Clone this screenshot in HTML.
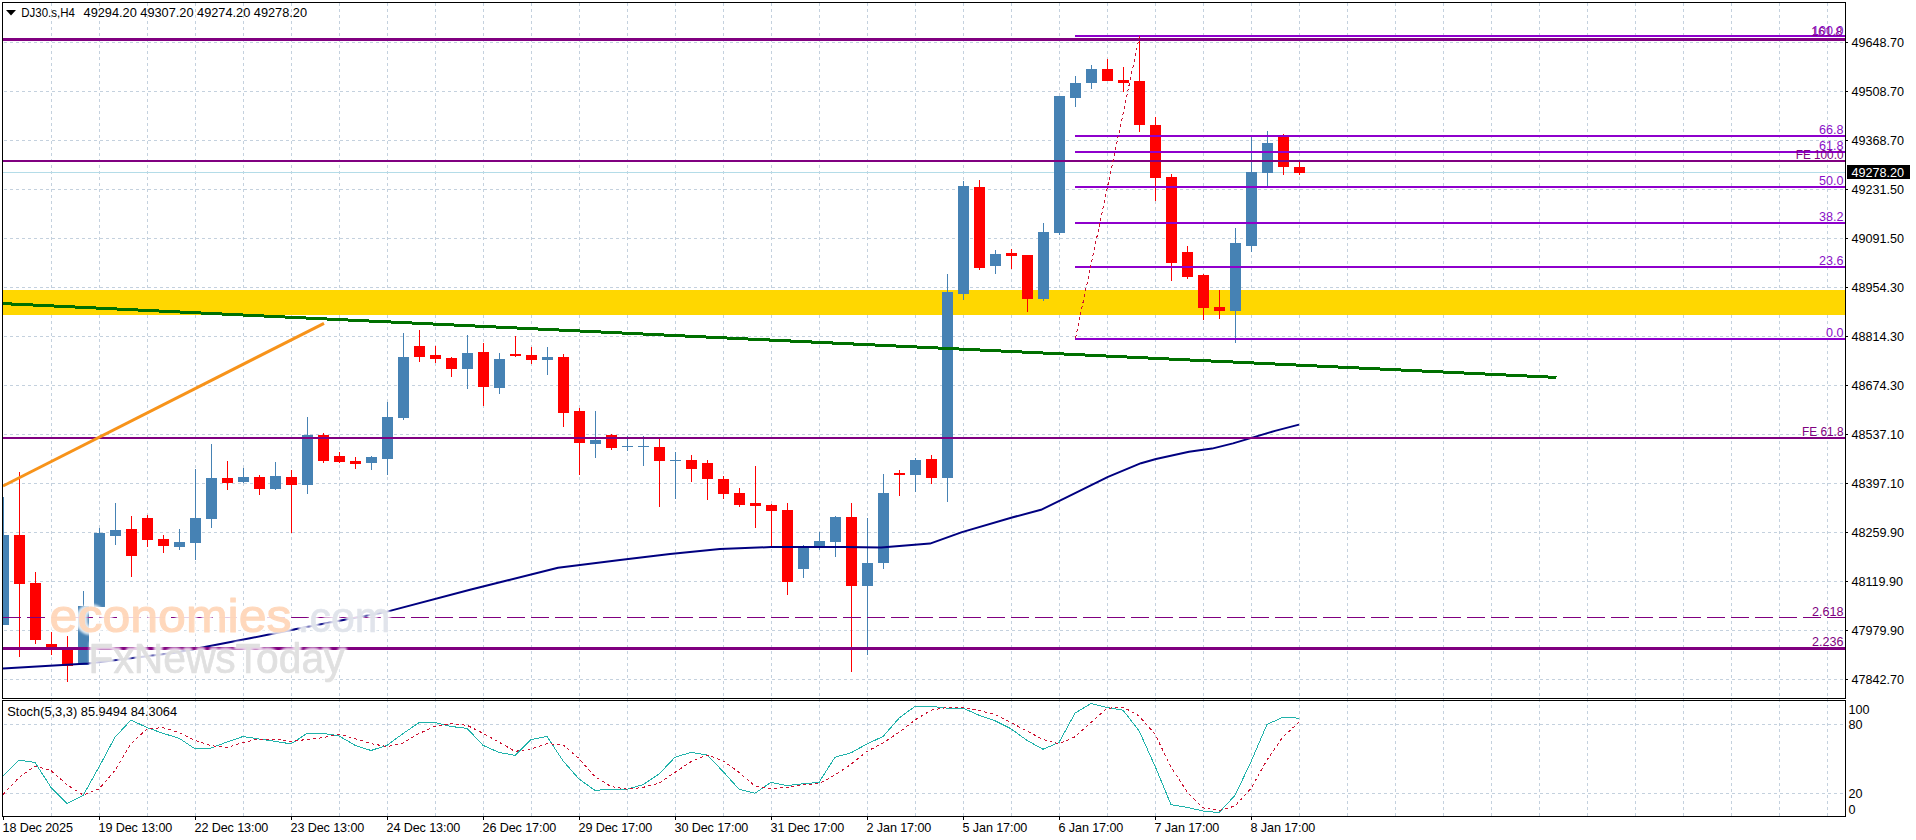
<!DOCTYPE html><html><head><meta charset="utf-8"><title>DJ30.s,H4</title>
<style>html,body{margin:0;padding:0;background:#fff;}body{width:1916px;height:840px;overflow:hidden;position:relative;font-family:"Liberation Sans",sans-serif;}svg{position:absolute;left:0;top:0;display:block;}text{font-family:"Liberation Sans",sans-serif;}
.ax{font-size:12.6px;fill:#000;}.fl{font-size:12.6px;text-anchor:end;}.dt{font-size:12.6px;fill:#000;letter-spacing:-0.1px;}
.wm{position:absolute;white-space:nowrap;line-height:1;}
</style></head><body>
<svg width="1916" height="840" viewBox="0 0 1916 840">
<rect x="0" y="0" width="1916" height="840" fill="#fff"/>
<g shape-rendering="crispEdges" stroke="#c4d1de" stroke-width="1" stroke-dasharray="3 3" fill="none">
<path d="M51.5 3V698" stroke-dashoffset="0"/>
<path d="M51.5 699V816" stroke-dashoffset="0"/>
<path d="M99.5 3V698" stroke-dashoffset="0"/>
<path d="M99.5 699V816" stroke-dashoffset="0"/>
<path d="M147.5 3V698" stroke-dashoffset="0"/>
<path d="M147.5 699V816" stroke-dashoffset="0"/>
<path d="M195.5 3V698" stroke-dashoffset="0"/>
<path d="M195.5 699V816" stroke-dashoffset="0"/>
<path d="M243.5 3V698" stroke-dashoffset="0"/>
<path d="M243.5 699V816" stroke-dashoffset="0"/>
<path d="M291.5 3V698" stroke-dashoffset="0"/>
<path d="M291.5 699V816" stroke-dashoffset="0"/>
<path d="M339.5 3V698" stroke-dashoffset="0"/>
<path d="M339.5 699V816" stroke-dashoffset="0"/>
<path d="M387.5 3V698" stroke-dashoffset="0"/>
<path d="M387.5 699V816" stroke-dashoffset="0"/>
<path d="M435.5 3V698" stroke-dashoffset="0"/>
<path d="M435.5 699V816" stroke-dashoffset="0"/>
<path d="M483.5 3V698" stroke-dashoffset="0"/>
<path d="M483.5 699V816" stroke-dashoffset="0"/>
<path d="M531.5 3V698" stroke-dashoffset="0"/>
<path d="M531.5 699V816" stroke-dashoffset="0"/>
<path d="M579.5 3V698" stroke-dashoffset="0"/>
<path d="M579.5 699V816" stroke-dashoffset="0"/>
<path d="M627.5 3V698" stroke-dashoffset="0"/>
<path d="M627.5 699V816" stroke-dashoffset="0"/>
<path d="M675.5 3V698" stroke-dashoffset="0"/>
<path d="M675.5 699V816" stroke-dashoffset="0"/>
<path d="M723.5 3V698" stroke-dashoffset="0"/>
<path d="M723.5 699V816" stroke-dashoffset="0"/>
<path d="M771.5 3V698" stroke-dashoffset="0"/>
<path d="M771.5 699V816" stroke-dashoffset="0"/>
<path d="M819.5 3V698" stroke-dashoffset="0"/>
<path d="M819.5 699V816" stroke-dashoffset="0"/>
<path d="M867.5 3V698" stroke-dashoffset="0"/>
<path d="M867.5 699V816" stroke-dashoffset="0"/>
<path d="M915.5 3V698" stroke-dashoffset="0"/>
<path d="M915.5 699V816" stroke-dashoffset="0"/>
<path d="M963.5 3V698" stroke-dashoffset="0"/>
<path d="M963.5 699V816" stroke-dashoffset="0"/>
<path d="M1011.5 3V698" stroke-dashoffset="0"/>
<path d="M1011.5 699V816" stroke-dashoffset="0"/>
<path d="M1059.5 3V698" stroke-dashoffset="0"/>
<path d="M1059.5 699V816" stroke-dashoffset="0"/>
<path d="M1107.5 3V698" stroke-dashoffset="0"/>
<path d="M1107.5 699V816" stroke-dashoffset="0"/>
<path d="M1155.5 3V698" stroke-dashoffset="0"/>
<path d="M1155.5 699V816" stroke-dashoffset="0"/>
<path d="M1203.5 3V698" stroke-dashoffset="0"/>
<path d="M1203.5 699V816" stroke-dashoffset="0"/>
<path d="M1251.5 3V698" stroke-dashoffset="0"/>
<path d="M1251.5 699V816" stroke-dashoffset="0"/>
<path d="M1299.5 3V698" stroke-dashoffset="0"/>
<path d="M1299.5 699V816" stroke-dashoffset="0"/>
<path d="M1347.5 3V698" stroke-dashoffset="0"/>
<path d="M1347.5 699V816" stroke-dashoffset="0"/>
<path d="M1395.5 3V698" stroke-dashoffset="0"/>
<path d="M1395.5 699V816" stroke-dashoffset="0"/>
<path d="M1443.5 3V698" stroke-dashoffset="0"/>
<path d="M1443.5 699V816" stroke-dashoffset="0"/>
<path d="M1491.5 3V698" stroke-dashoffset="0"/>
<path d="M1491.5 699V816" stroke-dashoffset="0"/>
<path d="M1539.5 3V698" stroke-dashoffset="0"/>
<path d="M1539.5 699V816" stroke-dashoffset="0"/>
<path d="M1587.5 3V698" stroke-dashoffset="0"/>
<path d="M1587.5 699V816" stroke-dashoffset="0"/>
<path d="M1635.5 3V698" stroke-dashoffset="0"/>
<path d="M1635.5 699V816" stroke-dashoffset="0"/>
<path d="M1683.5 3V698" stroke-dashoffset="0"/>
<path d="M1683.5 699V816" stroke-dashoffset="0"/>
<path d="M1731.5 3V698" stroke-dashoffset="0"/>
<path d="M1731.5 699V816" stroke-dashoffset="0"/>
<path d="M1779.5 3V698" stroke-dashoffset="0"/>
<path d="M1779.5 699V816" stroke-dashoffset="0"/>
<path d="M1827.5 3V698" stroke-dashoffset="0"/>
<path d="M1827.5 699V816" stroke-dashoffset="0"/>
<path d="M4 42.5H1845"/>
<path d="M4 91.5H1845"/>
<path d="M4 140.5H1845"/>
<path d="M4 189.5H1845"/>
<path d="M4 238.5H1845"/>
<path d="M4 287.5H1845"/>
<path d="M4 336.5H1845"/>
<path d="M4 385.5H1845"/>
<path d="M4 434.5H1845"/>
<path d="M4 483.5H1845"/>
<path d="M4 532.5H1845"/>
<path d="M4 581.5H1845"/>
<path d="M4 630.5H1845"/>
<path d="M4 679.5H1845"/>
<path d="M4 724.5H1845"/>
<path d="M4 793.5H1845"/>
</g>
<rect x="3" y="290" width="1842" height="25" fill="#ffd700" shape-rendering="crispEdges"/>
<rect x="3" y="172" width="1842" height="1" fill="#b4dce8" shape-rendering="crispEdges"/>
<g shape-rendering="crispEdges">
<rect x="3" y="497" width="1" height="128" fill="#4682b4"/>
<rect x="3" y="535" width="6" height="90" fill="#4682b4"/>
<rect x="19" y="472" width="1" height="185" fill="#ff0000"/>
<rect x="14" y="535" width="11" height="49" fill="#ff0000"/>
<rect x="35" y="572" width="1" height="72" fill="#ff0000"/>
<rect x="30" y="583" width="11" height="57" fill="#ff0000"/>
<rect x="51" y="632" width="1" height="23" fill="#ff0000"/>
<rect x="46" y="644" width="11" height="4" fill="#ff0000"/>
<rect x="67" y="636" width="1" height="46" fill="#ff0000"/>
<rect x="62" y="649" width="11" height="17" fill="#ff0000"/>
<rect x="83" y="591" width="1" height="74" fill="#4682b4"/>
<rect x="78" y="606" width="11" height="59" fill="#4682b4"/>
<rect x="99" y="528" width="1" height="79" fill="#4682b4"/>
<rect x="94" y="533" width="11" height="74" fill="#4682b4"/>
<rect x="115" y="503" width="1" height="42" fill="#4682b4"/>
<rect x="110" y="530" width="11" height="6" fill="#4682b4"/>
<rect x="131" y="516" width="1" height="61" fill="#ff0000"/>
<rect x="126" y="529" width="11" height="27" fill="#ff0000"/>
<rect x="147" y="515" width="1" height="32" fill="#ff0000"/>
<rect x="142" y="518" width="11" height="22" fill="#ff0000"/>
<rect x="163" y="535" width="1" height="18" fill="#ff0000"/>
<rect x="158" y="539" width="11" height="7" fill="#ff0000"/>
<rect x="179" y="529" width="1" height="21" fill="#4682b4"/>
<rect x="174" y="542" width="11" height="5" fill="#4682b4"/>
<rect x="195" y="469" width="1" height="91" fill="#4682b4"/>
<rect x="190" y="518" width="11" height="25" fill="#4682b4"/>
<rect x="211" y="444" width="1" height="84" fill="#4682b4"/>
<rect x="206" y="478" width="11" height="41" fill="#4682b4"/>
<rect x="227" y="461" width="1" height="29" fill="#ff0000"/>
<rect x="222" y="478" width="11" height="5" fill="#ff0000"/>
<rect x="243" y="468" width="1" height="15" fill="#4682b4"/>
<rect x="238" y="477" width="11" height="5" fill="#4682b4"/>
<rect x="259" y="475" width="1" height="20" fill="#ff0000"/>
<rect x="254" y="477" width="11" height="12" fill="#ff0000"/>
<rect x="275" y="462" width="1" height="28" fill="#4682b4"/>
<rect x="270" y="476" width="11" height="13" fill="#4682b4"/>
<rect x="291" y="470" width="1" height="63" fill="#ff0000"/>
<rect x="286" y="477" width="11" height="8" fill="#ff0000"/>
<rect x="307" y="417" width="1" height="77" fill="#4682b4"/>
<rect x="302" y="435" width="11" height="50" fill="#4682b4"/>
<rect x="323" y="433" width="1" height="30" fill="#ff0000"/>
<rect x="318" y="435" width="11" height="26" fill="#ff0000"/>
<rect x="339" y="452" width="1" height="11" fill="#ff0000"/>
<rect x="334" y="456" width="11" height="6" fill="#ff0000"/>
<rect x="355" y="457" width="1" height="12" fill="#ff0000"/>
<rect x="350" y="461" width="11" height="3" fill="#ff0000"/>
<rect x="371" y="456" width="1" height="14" fill="#4682b4"/>
<rect x="366" y="457" width="11" height="6" fill="#4682b4"/>
<rect x="387" y="402" width="1" height="73" fill="#4682b4"/>
<rect x="382" y="417" width="11" height="42" fill="#4682b4"/>
<rect x="403" y="333" width="1" height="87" fill="#4682b4"/>
<rect x="398" y="357" width="11" height="61" fill="#4682b4"/>
<rect x="419" y="330" width="1" height="32" fill="#ff0000"/>
<rect x="414" y="346" width="11" height="11" fill="#ff0000"/>
<rect x="435" y="346" width="1" height="17" fill="#ff0000"/>
<rect x="430" y="355" width="11" height="4" fill="#ff0000"/>
<rect x="451" y="357" width="1" height="20" fill="#ff0000"/>
<rect x="446" y="358" width="11" height="11" fill="#ff0000"/>
<rect x="467" y="335" width="1" height="54" fill="#4682b4"/>
<rect x="462" y="353" width="11" height="16" fill="#4682b4"/>
<rect x="483" y="343" width="1" height="63" fill="#ff0000"/>
<rect x="478" y="352" width="11" height="35" fill="#ff0000"/>
<rect x="499" y="353" width="1" height="41" fill="#4682b4"/>
<rect x="494" y="359" width="11" height="29" fill="#4682b4"/>
<rect x="515" y="336" width="1" height="21" fill="#ff0000"/>
<rect x="510" y="354" width="11" height="2" fill="#ff0000"/>
<rect x="531" y="347" width="1" height="17" fill="#ff0000"/>
<rect x="526" y="355" width="11" height="5" fill="#ff0000"/>
<rect x="547" y="347" width="1" height="28" fill="#4682b4"/>
<rect x="542" y="357" width="11" height="3" fill="#4682b4"/>
<rect x="563" y="354" width="1" height="73" fill="#ff0000"/>
<rect x="558" y="357" width="11" height="56" fill="#ff0000"/>
<rect x="579" y="408" width="1" height="67" fill="#ff0000"/>
<rect x="574" y="411" width="11" height="32" fill="#ff0000"/>
<rect x="595" y="411" width="1" height="47" fill="#4682b4"/>
<rect x="590" y="440" width="11" height="4" fill="#4682b4"/>
<rect x="611" y="434" width="1" height="16" fill="#ff0000"/>
<rect x="606" y="435" width="11" height="13" fill="#ff0000"/>
<rect x="627" y="436" width="1" height="15" fill="#4682b4"/>
<rect x="622" y="446" width="11" height="1" fill="#4682b4"/>
<rect x="643" y="436" width="1" height="30" fill="#4682b4"/>
<rect x="638" y="446" width="11" height="1" fill="#4682b4"/>
<rect x="659" y="437" width="1" height="70" fill="#ff0000"/>
<rect x="654" y="447" width="11" height="14" fill="#ff0000"/>
<rect x="675" y="452" width="1" height="47" fill="#4682b4"/>
<rect x="670" y="460" width="11" height="1" fill="#4682b4"/>
<rect x="691" y="455" width="1" height="27" fill="#ff0000"/>
<rect x="686" y="460" width="11" height="9" fill="#ff0000"/>
<rect x="707" y="460" width="1" height="40" fill="#ff0000"/>
<rect x="702" y="463" width="11" height="16" fill="#ff0000"/>
<rect x="723" y="476" width="1" height="23" fill="#ff0000"/>
<rect x="718" y="479" width="11" height="15" fill="#ff0000"/>
<rect x="739" y="488" width="1" height="19" fill="#ff0000"/>
<rect x="734" y="493" width="11" height="12" fill="#ff0000"/>
<rect x="755" y="466" width="1" height="62" fill="#ff0000"/>
<rect x="750" y="503" width="11" height="3" fill="#ff0000"/>
<rect x="771" y="504" width="1" height="44" fill="#ff0000"/>
<rect x="766" y="505" width="11" height="6" fill="#ff0000"/>
<rect x="787" y="503" width="1" height="92" fill="#ff0000"/>
<rect x="782" y="510" width="11" height="72" fill="#ff0000"/>
<rect x="803" y="545" width="1" height="33" fill="#4682b4"/>
<rect x="798" y="548" width="11" height="21" fill="#4682b4"/>
<rect x="819" y="532" width="1" height="18" fill="#4682b4"/>
<rect x="814" y="541" width="11" height="5" fill="#4682b4"/>
<rect x="835" y="516" width="1" height="41" fill="#4682b4"/>
<rect x="830" y="517" width="11" height="25" fill="#4682b4"/>
<rect x="851" y="503" width="1" height="169" fill="#ff0000"/>
<rect x="846" y="517" width="11" height="69" fill="#ff0000"/>
<rect x="867" y="518" width="1" height="137" fill="#4682b4"/>
<rect x="862" y="563" width="11" height="23" fill="#4682b4"/>
<rect x="883" y="474" width="1" height="95" fill="#4682b4"/>
<rect x="878" y="493" width="11" height="70" fill="#4682b4"/>
<rect x="899" y="470" width="1" height="26" fill="#ff0000"/>
<rect x="894" y="473" width="11" height="2" fill="#ff0000"/>
<rect x="915" y="458" width="1" height="34" fill="#4682b4"/>
<rect x="910" y="460" width="11" height="15" fill="#4682b4"/>
<rect x="931" y="455" width="1" height="29" fill="#ff0000"/>
<rect x="926" y="459" width="11" height="19" fill="#ff0000"/>
<rect x="947" y="274" width="1" height="228" fill="#4682b4"/>
<rect x="942" y="292" width="11" height="186" fill="#4682b4"/>
<rect x="963" y="181" width="1" height="119" fill="#4682b4"/>
<rect x="958" y="186" width="11" height="108" fill="#4682b4"/>
<rect x="979" y="180" width="1" height="90" fill="#ff0000"/>
<rect x="974" y="187" width="11" height="81" fill="#ff0000"/>
<rect x="995" y="250" width="1" height="24" fill="#4682b4"/>
<rect x="990" y="254" width="11" height="12" fill="#4682b4"/>
<rect x="1011" y="249" width="1" height="20" fill="#ff0000"/>
<rect x="1006" y="253" width="11" height="3" fill="#ff0000"/>
<rect x="1027" y="255" width="1" height="57" fill="#ff0000"/>
<rect x="1022" y="255" width="11" height="44" fill="#ff0000"/>
<rect x="1043" y="223" width="1" height="78" fill="#4682b4"/>
<rect x="1038" y="232" width="11" height="67" fill="#4682b4"/>
<rect x="1059" y="96" width="1" height="139" fill="#4682b4"/>
<rect x="1054" y="96" width="11" height="137" fill="#4682b4"/>
<rect x="1075" y="76" width="1" height="31" fill="#4682b4"/>
<rect x="1070" y="83" width="11" height="15" fill="#4682b4"/>
<rect x="1091" y="65" width="1" height="24" fill="#4682b4"/>
<rect x="1086" y="69" width="11" height="14" fill="#4682b4"/>
<rect x="1107" y="59" width="1" height="22" fill="#ff0000"/>
<rect x="1102" y="69" width="11" height="12" fill="#ff0000"/>
<rect x="1123" y="67" width="1" height="25" fill="#ff0000"/>
<rect x="1118" y="80" width="11" height="3" fill="#ff0000"/>
<rect x="1139" y="36" width="1" height="96" fill="#ff0000"/>
<rect x="1134" y="81" width="11" height="44" fill="#ff0000"/>
<rect x="1155" y="117" width="1" height="84" fill="#ff0000"/>
<rect x="1150" y="125" width="11" height="53" fill="#ff0000"/>
<rect x="1171" y="174" width="1" height="107" fill="#ff0000"/>
<rect x="1166" y="177" width="11" height="86" fill="#ff0000"/>
<rect x="1187" y="246" width="1" height="33" fill="#ff0000"/>
<rect x="1182" y="252" width="11" height="25" fill="#ff0000"/>
<rect x="1203" y="274" width="1" height="46" fill="#ff0000"/>
<rect x="1198" y="275" width="11" height="33" fill="#ff0000"/>
<rect x="1219" y="290" width="1" height="29" fill="#ff0000"/>
<rect x="1214" y="307" width="11" height="4" fill="#ff0000"/>
<rect x="1235" y="228" width="1" height="115" fill="#4682b4"/>
<rect x="1230" y="243" width="11" height="68" fill="#4682b4"/>
<rect x="1251" y="135" width="1" height="117" fill="#4682b4"/>
<rect x="1246" y="172" width="11" height="74" fill="#4682b4"/>
<rect x="1267" y="131" width="1" height="55" fill="#4682b4"/>
<rect x="1262" y="143" width="11" height="30" fill="#4682b4"/>
<rect x="1283" y="134" width="1" height="41" fill="#ff0000"/>
<rect x="1278" y="136" width="11" height="31" fill="#ff0000"/>
<rect x="1299" y="160" width="1" height="15" fill="#ff0000"/>
<rect x="1294" y="167" width="11" height="6" fill="#ff0000"/>
</g>
<polyline fill="none" stroke="#000080" stroke-width="2" stroke-linejoin="round" points="3,668.6 88,663.5 175,652.8 250,638.2 300,628.2 388,611.4 470,589.7 508,580.2 558,567.7 620,560.1 670,553.9 720,548.9 771,547.1 846,546.9 881,547.6 930,543.6 962,532.1 1012,517.5 1041,509.8 1066,497.7 1108,476.8 1141,463.2 1156,459 1189,451.8 1212,448.6 1233,443.4 1254,437.1 1275,430.9 1299,424.6"/>
<g shape-rendering="crispEdges">
<rect x="3" y="38" width="1842" height="3" fill="#800080"/>
<rect x="3" y="160" width="1842" height="2" fill="#800080"/>
<rect x="3" y="437" width="1842" height="2" fill="#800080"/>
<rect x="3" y="647" width="1842" height="3" fill="#800080"/>
<path d="M3 617.5H1845" stroke="#800080" stroke-width="1" stroke-dasharray="18 6" fill="none"/>
<rect x="1075" y="35" width="770" height="2" fill="#8e00cc"/>
<rect x="1075" y="135" width="770" height="2" fill="#8e00cc"/>
<rect x="1075" y="151" width="770" height="2" fill="#8e00cc"/>
<rect x="1075" y="186" width="770" height="2" fill="#8e00cc"/>
<rect x="1075" y="222" width="770" height="2" fill="#8e00cc"/>
<rect x="1075" y="266" width="770" height="2" fill="#8e00cc"/>
<rect x="1075" y="338" width="770" height="2" fill="#8e00cc"/>
</g>
<path d="M1075.5 338L1139.5 36" stroke="#cc1030" stroke-width="1" stroke-dasharray="3 3" fill="none" shape-rendering="crispEdges"/>
<path d="M3 303.6L1556.5 377.4" stroke="#007000" stroke-width="3" fill="none" shape-rendering="crispEdges"/>
<path d="M3 486L324 323.3" stroke="#f7931a" stroke-width="3" fill="none"/>
<polyline fill="none" stroke="#20b2aa" stroke-width="1" shape-rendering="crispEdges" points="3,775.9 19,760.2 35,762.5 51,787.4 67,803.4 83,795.7 99,767 115,737.2 131,720 147,727.6 163,733.3 179,738.2 195,748.9 211,748 227,742 243,736.5 259,739 275,741.3 291,743.9 307,733.3 323,733.3 339,735.9 355,745.3 371,750.5 387,745.3 403,733.6 419,722.6 435,722.6 451,726.5 467,728.3 483,745.3 499,752.4 515,755.4 531,739.5 547,736.5 563,760.8 579,779 595,790.4 611,789.2 627,789.2 643,784.7 659,774.1 675,757.2 691,752.4 707,754.9 723,771.4 739,789.2 755,793.2 771,782.4 787,785.6 803,783.8 819,782.4 835,757.2 851,752.8 867,743.9 883,736.5 899,718.2 915,706.3 931,706.3 947,708.1 963,708.1 979,715.2 995,720.8 1011,728.8 1027,740.4 1043,749.2 1059,742.5 1075,713.2 1091,703.5 1107,707.5 1123,710.2 1139,730.6 1155,766.1 1171,804.6 1187,807.4 1203,811 1219,812.6 1235,795.4 1251,761.7 1267,724.4 1283,717.3 1299,718.2"/>
<polyline fill="none" stroke="#cc1030" stroke-width="1" stroke-dasharray="3 3" shape-rendering="crispEdges" points="3,794.5 19,777.6 35,766 51,770.5 67,784.7 83,795 99,789 115,770.5 131,743.9 147,728.8 163,727.6 179,732.4 195,740.4 211,745.7 227,747.5 243,742.5 259,739 275,739 291,741.3 307,739.5 323,737.7 339,734.2 355,738.6 371,743.6 387,746.6 403,743 419,733.6 435,726.2 451,723.5 467,725.3 483,733.3 499,742.1 515,751.4 531,748.9 547,743.6 563,744.8 579,758.5 595,776.7 611,786.5 627,789.2 643,787.4 659,783.3 675,772.3 691,761.7 707,754.9 723,760.8 739,772.3 755,786.1 771,788.6 787,787.4 803,784.4 819,783.8 835,775 851,764.3 867,751.4 883,743 899,732.4 915,720 931,710.2 947,707.5 963,707.5 979,710.5 995,714.6 1011,722.6 1027,731.1 1043,739.5 1059,743.9 1075,736.8 1091,722.6 1107,708.4 1123,707 1139,715.9 1155,734.2 1171,767 1187,791.8 1203,807.8 1219,810.5 1235,806 1251,788.3 1267,759.9 1283,736.8 1299,722.3"/>
<g shape-rendering="crispEdges" fill="#000">
<rect x="2" y="2" width="1844" height="1"/>
<rect x="2" y="2" width="1" height="815"/>
<rect x="1845" y="2" width="1" height="815"/>
<rect x="2" y="698" width="1844" height="1"/>
<rect x="2" y="700" width="1844" height="1"/>
<rect x="2" y="816" width="1844" height="1"/>
<rect x="2" y="699" width="1" height="1" fill="#fff"/>
<rect x="1845" y="699" width="1" height="1" fill="#fff"/>
<rect x="1846" y="42" width="2" height="1"/>
<rect x="1846" y="91" width="2" height="1"/>
<rect x="1846" y="140" width="2" height="1"/>
<rect x="1846" y="189" width="2" height="1"/>
<rect x="1846" y="238" width="2" height="1"/>
<rect x="1846" y="287" width="2" height="1"/>
<rect x="1846" y="336" width="2" height="1"/>
<rect x="1846" y="385" width="2" height="1"/>
<rect x="1846" y="434" width="2" height="1"/>
<rect x="1846" y="483" width="2" height="1"/>
<rect x="1846" y="532" width="2" height="1"/>
<rect x="1846" y="581" width="2" height="1"/>
<rect x="1846" y="630" width="2" height="1"/>
<rect x="1846" y="679" width="2" height="1"/>
<rect x="3" y="817" width="1" height="3"/>
<rect x="99" y="817" width="1" height="3"/>
<rect x="195" y="817" width="1" height="3"/>
<rect x="291" y="817" width="1" height="3"/>
<rect x="387" y="817" width="1" height="3"/>
<rect x="483" y="817" width="1" height="3"/>
<rect x="579" y="817" width="1" height="3"/>
<rect x="675" y="817" width="1" height="3"/>
<rect x="771" y="817" width="1" height="3"/>
<rect x="867" y="817" width="1" height="3"/>
<rect x="963" y="817" width="1" height="3"/>
<rect x="1059" y="817" width="1" height="3"/>
<rect x="1155" y="817" width="1" height="3"/>
<rect x="1251" y="817" width="1" height="3"/>
</g>
<text class="ax" x="1851.5" y="47.2">49648.70</text>
<text class="ax" x="1851.5" y="96.2">49508.70</text>
<text class="ax" x="1851.5" y="145.2">49368.70</text>
<text class="ax" x="1851.5" y="194.2">49231.50</text>
<text class="ax" x="1851.5" y="243.2">49091.50</text>
<text class="ax" x="1851.5" y="292.2">48954.30</text>
<text class="ax" x="1851.5" y="341.2">48814.30</text>
<text class="ax" x="1851.5" y="390.2">48674.30</text>
<text class="ax" x="1851.5" y="439.2">48537.10</text>
<text class="ax" x="1851.5" y="488.2">48397.10</text>
<text class="ax" x="1851.5" y="537.2">48259.90</text>
<text class="ax" x="1851.5" y="586.2">48119.90</text>
<text class="ax" x="1851.5" y="635.2">47979.90</text>
<text class="ax" x="1851.5" y="684.2">47842.70</text>
<rect x="1847" y="165" width="63" height="14" fill="#000" shape-rendering="crispEdges"/>
<text class="ax" x="1851.5" y="177.2" style="fill:#fff">49278.20</text>
<text class="ax" x="1848.6" y="713.6">100</text>
<text class="ax" x="1848.6" y="728.6">80</text>
<text class="ax" x="1848.6" y="797.6">20</text>
<text class="ax" x="1848.6" y="813.5">0</text>
<text class="dt" x="2.5" y="832">18 Dec 2025</text>
<text class="dt" x="98.5" y="832">19 Dec 13:00</text>
<text class="dt" x="194.5" y="832">22 Dec 13:00</text>
<text class="dt" x="290.5" y="832">23 Dec 13:00</text>
<text class="dt" x="386.5" y="832">24 Dec 13:00</text>
<text class="dt" x="482.5" y="832">26 Dec 17:00</text>
<text class="dt" x="578.5" y="832">29 Dec 17:00</text>
<text class="dt" x="674.5" y="832">30 Dec 17:00</text>
<text class="dt" x="770.5" y="832">31 Dec 17:00</text>
<text class="dt" x="866.5" y="832">2 Jan 17:00</text>
<text class="dt" x="962.5" y="832">5 Jan 17:00</text>
<text class="dt" x="1058.5" y="832">6 Jan 17:00</text>
<text class="dt" x="1154.5" y="832">7 Jan 17:00</text>
<text class="dt" x="1250.5" y="832">8 Jan 17:00</text>
<path d="M6 10H16L11 15.5Z" fill="#000"/>
<text class="ax" x="21.3" y="17" textLength="53.6" lengthAdjust="spacingAndGlyphs">DJ30.s,H4</text>
<text class="ax" x="83.6" y="17" textLength="223.4" lengthAdjust="spacingAndGlyphs">49294.20 49307.20 49274.20 49278.20</text>
<text class="ax" x="7.3" y="715.5" textLength="169.8" lengthAdjust="spacingAndGlyphs">Stoch(5,3,3) 85.9494 84.3064</text>
<text class="fl" x="1842.5" y="35.5" fill="#800080">161.8</text>
<text class="fl" x="1843.5" y="34.5" fill="#8a10c8">100.0</text>
<text class="fl" x="1843.5" y="134" fill="#8a10c8">66.8</text>
<text class="fl" x="1843.5" y="150" fill="#8a10c8">61.8</text>
<text class="fl" x="1843.5" y="159" fill="#800080" textLength="47.8" lengthAdjust="spacingAndGlyphs">FE 100.0</text>
<text class="fl" x="1843.5" y="185" fill="#8a10c8">50.0</text>
<text class="fl" x="1843.5" y="221" fill="#8a10c8">38.2</text>
<text class="fl" x="1843.5" y="265" fill="#8a10c8">23.6</text>
<text class="fl" x="1843.5" y="337" fill="#8a10c8">0.0</text>
<text class="fl" x="1843.5" y="436" fill="#800080" textLength="41.5" lengthAdjust="spacingAndGlyphs">FE 61.8</text>
<text class="fl" x="1843.5" y="616" fill="#800080">2.618</text>
<text class="fl" x="1843.5" y="646" fill="#800080">2.236</text>
<defs><filter id="wb" x="-5%" y="-20%" width="110%" height="140%"><feGaussianBlur stdDeviation="1.1"/></filter></defs>
<g filter="url(#wb)" opacity="0.82">
<text x="49.6" y="632" font-size="47px" fill="#fff" stroke="#fff" stroke-width="6.1" stroke-linejoin="round" textLength="242" lengthAdjust="spacingAndGlyphs">economies</text>
<text x="297.5" y="632" font-size="43px" fill="#fff" stroke="#fff" stroke-width="5.6" stroke-linejoin="round" textLength="93" lengthAdjust="spacingAndGlyphs">.com</text>
<text x="88.5" y="672.7" font-size="42px" fill="#fff" stroke="#fff" stroke-width="5.7" stroke-linejoin="round" textLength="256" lengthAdjust="spacingAndGlyphs">FxNewsToday</text>
</g>
<g opacity="0.93">
<text x="49.6" y="632" font-size="47px" fill="#ffd6b8" stroke="#ffd6b8" stroke-width="1.1" stroke-linejoin="round" textLength="242" lengthAdjust="spacingAndGlyphs">economies</text>
<text x="297.5" y="632" font-size="43px" fill="#dfe3ea" stroke="#dfe3ea" stroke-width="0.6" stroke-linejoin="round" textLength="93" lengthAdjust="spacingAndGlyphs">.com</text>
<text x="88.5" y="672.7" font-size="42px" fill="#dedede" stroke="#dedede" stroke-width="0.7" stroke-linejoin="round" textLength="256" lengthAdjust="spacingAndGlyphs">FxNewsToday</text>
</g>
</svg>
</body></html>
